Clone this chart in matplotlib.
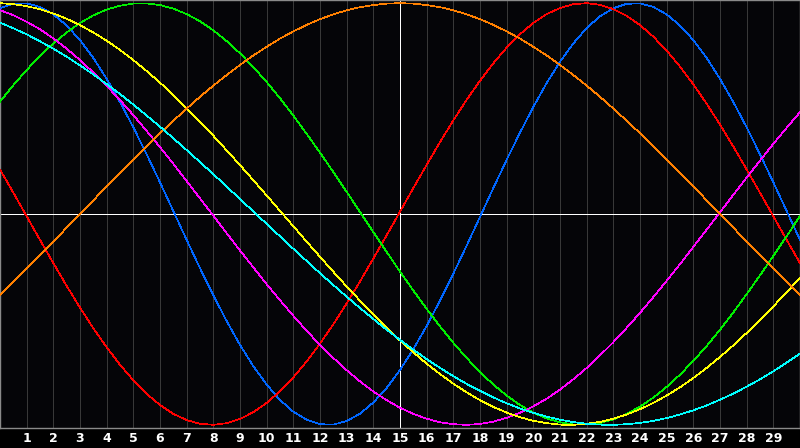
import matplotlib
matplotlib.use("Agg")
import matplotlib.pyplot as plt

# sample positions: every half day from day 0 to day 30
days = [i / 2 for i in range(61)]
day_labels = [str(d) for d in range(1, 30)]

# values (day 0, 0.5, 1, ... 30), scale -1 .. 1
physical = [0.976, 0.997, 0.999, 0.982, 0.947, 0.894, 0.825, 0.740, 0.641, 0.531,
            0.411, 0.283, 0.150, 0.014, -0.123, -0.257, -0.386, -0.508, -0.621, -0.722,
            -0.809, -0.882, -0.938, -0.976, -0.997, -0.999, -0.982, -0.947, -0.894, -0.825,
            -0.740, -0.641, -0.531, -0.411, -0.283, -0.150, -0.014, 0.123, 0.257, 0.386,
            0.508, 0.621, 0.722, 0.809, 0.882, 0.938, 0.976, 0.997, 0.999, 0.982,
            0.947, 0.894, 0.825, 0.740, 0.641, 0.531, 0.411, 0.283, 0.150, 0.014, -0.123]
emotional = [0.211, 0.101, -0.011, -0.123, -0.233, -0.341, -0.444, -0.542, -0.632, -0.715,
             -0.789, -0.853, -0.906, -0.948, -0.977, -0.995, -1.000, -0.992, -0.972, -0.940,
             -0.896, -0.841, -0.775, -0.699, -0.615, -0.523, -0.424, -0.320, -0.211, -0.101,
             0.011, 0.123, 0.233, 0.341, 0.444, 0.542, 0.632, 0.715, 0.789, 0.853,
             0.906, 0.948, 0.977, 0.995, 1.000, 0.992, 0.972, 0.940, 0.896, 0.841,
             0.775, 0.699, 0.615, 0.523, 0.424, 0.320, 0.211, 0.101, -0.011, -0.123, -0.233]
intellectual = [0.533, 0.611, 0.683, 0.750, 0.809, 0.861, 0.906, 0.942, 0.970, 0.988,
                0.998, 0.999, 0.991, 0.974, 0.948, 0.914, 0.871, 0.820, 0.762, 0.697,
                0.626, 0.549, 0.467, 0.380, 0.291, 0.199, 0.105, 0.010, -0.086, -0.180,
                -0.273, -0.363, -0.450, -0.533, -0.611, -0.683, -0.750, -0.809, -0.861, -0.906,
                -0.942, -0.970, -0.988, -0.998, -0.999, -0.991, -0.974, -0.948, -0.914, -0.871,
                -0.820, -0.762, -0.697, -0.626, -0.549, -0.467, -0.380, -0.291, -0.199, -0.105, -0.010]
intuitive = [0.967, 0.943, 0.912, 0.876, 0.833, 0.784, 0.730, 0.671, 0.608, 0.540,
             0.469, 0.394, 0.317, 0.238, 0.156, 0.074, -0.008, -0.091, -0.173, -0.253,
             -0.333, -0.409, -0.483, -0.554, -0.621, -0.683, -0.741, -0.794, -0.842, -0.883,
             -0.919, -0.948, -0.971, -0.988, -0.997, -1.000, -0.996, -0.985, -0.967, -0.943,
             -0.912, -0.876, -0.833, -0.784, -0.730, -0.671, -0.608, -0.540, -0.469, -0.394,
             -0.317, -0.238, -0.156, -0.074, 0.008, 0.091, 0.173, 0.253, 0.333, 0.409, 0.483]
aesthetic = [1.000, 0.995, 0.986, 0.971, 0.951, 0.926, 0.896, 0.861, 0.822, 0.778,
             0.730, 0.678, 0.623, 0.564, 0.502, 0.438, 0.371, 0.302, 0.232, 0.160,
             0.088, 0.015, -0.058, -0.131, -0.203, -0.274, -0.344, -0.411, -0.477, -0.539,
             -0.600, -0.656, -0.710, -0.759, -0.805, -0.846, -0.883, -0.915, -0.942, -0.964,
             -0.981, -0.992, -0.999, -1.000, -0.995, -0.986, -0.971, -0.951, -0.926, -0.896,
             -0.861, -0.822, -0.778, -0.730, -0.678, -0.623, -0.564, -0.502, -0.438, -0.371, -0.302]
awareness = [-0.383, -0.321, -0.259, -0.195, -0.131, -0.065, 0.000, 0.065, 0.131, 0.195,
             0.259, 0.321, 0.383, 0.442, 0.500, 0.556, 0.609, 0.659, 0.707, 0.752,
             0.793, 0.832, 0.866, 0.897, 0.924, 0.947, 0.966, 0.981, 0.991, 0.998,
             1.000, 0.998, 0.991, 0.981, 0.966, 0.947, 0.924, 0.897, 0.866, 0.832,
             0.793, 0.752, 0.707, 0.659, 0.609, 0.556, 0.500, 0.442, 0.383, 0.321,
             0.259, 0.195, 0.131, 0.065, 0.000, -0.065, -0.131, -0.195, -0.259, -0.321, -0.383]
spiritual = [0.908, 0.881, 0.852, 0.819, 0.784, 0.746, 0.705, 0.662, 0.616, 0.569,
             0.519, 0.467, 0.414, 0.359, 0.303, 0.246, 0.189, 0.130, 0.071, 0.012,
             -0.047, -0.106, -0.165, -0.223, -0.281, -0.337, -0.392, -0.446, -0.498, -0.549,
             -0.597, -0.644, -0.688, -0.730, -0.769, -0.806, -0.839, -0.870, -0.898, -0.922,
             -0.943, -0.961, -0.976, -0.987, -0.995, -0.999, -1.000, -0.997, -0.991, -0.981,
             -0.968, -0.951, -0.931, -0.908, -0.881, -0.852, -0.819, -0.784, -0.746, -0.705, -0.662]

curves = [
    (physical, "#0066ff"),
    (emotional, "#ff0000"),
    (intellectual, "#00ee00"),
    (intuitive, "#ff00ff"),
    (aesthetic, "#ffff00"),
    (awareness, "#ff8000"),
    (spiritual, "#00ffff"),
]

fig = plt.figure(figsize=(8, 4.48), dpi=100, facecolor="#000000")
ax = fig.add_axes([0, 20 / 448, 1, 428 / 448])
ax.set_facecolor("#050508")

ax.set_xlim(0, 30)
ax.set_ylim(-1.015, 1.015)

# day grid
for d in range(1, 30):
    if d != 15:
        ax.axvline(d, color="#383838", lw=0.6, antialiased=False, zorder=1)
ax.axvline(15, color="#ffffff", lw=0.7, antialiased=False, zorder=2)
ax.axhline(0, color="#ffffff", lw=0.7, antialiased=False, zorder=2)

for vals, col in curves:
    ax.plot(days, vals, color=col, lw=0.5, antialiased=False, zorder=3)

ax.set_xticks(range(1, 30))
ax.set_xticklabels(day_labels)
ax.set_yticks([])
ax.tick_params(axis="x", length=0, pad=3, colors="white", labelsize=9)
for lab in ax.get_xticklabels():
    lab.set_fontweight("bold")

for sp in ax.spines.values():
    sp.set_color("#8a8a8a")
    sp.set_linewidth(1)

fig.savefig("out.png", dpi=100, facecolor=fig.get_facecolor())
